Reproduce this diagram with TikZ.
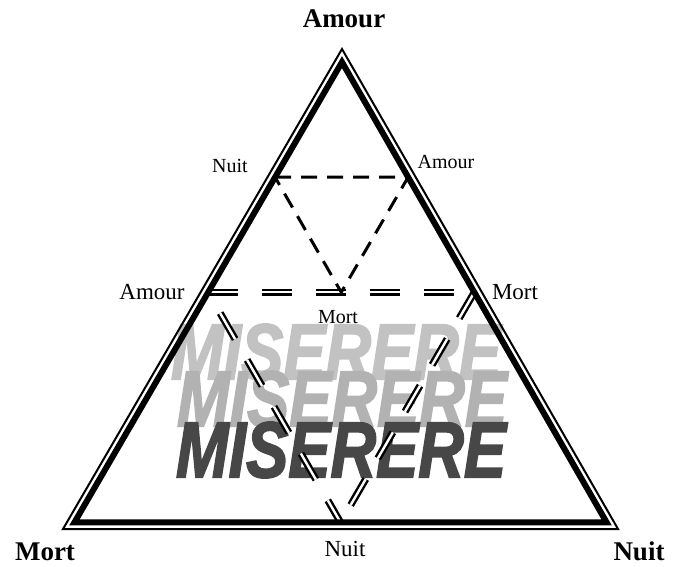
\documentclass[tikz,border=0pt]{standalone}
\usepackage{fontspec}
\setmainfont{Liberation Serif}
\newfontfamily\wordfont{Liberation Sans}[BoldItalicFeatures={FakeBold=2.5}]
\usetikzlibrary{calc}

\begin{document}
\begin{tikzpicture}[
  x=1pt, y=-1pt,
  cornerlbl/.style={font=\bfseries\fontsize{27}{27}\selectfont, inner sep=0pt},
  sidelbl/.style={font=\fontsize{23}{23}\selectfont, inner sep=0pt},
  innerlbl/.style={font=\fontsize{20}{20}\selectfont, inner sep=0pt},
  word/.style={font=\wordfont\bfseries\itshape\fontsize{79}{79}\selectfont, inner sep=0pt, xscale=0.8},
  rimthin/.style={line width=2pt, line join=miter},
  rimthick/.style={line width=6pt, line join=miter},
  dashline/.style={line width=3pt, dash pattern=on 16pt off 10pt},
  dbldash/.style={double, line width=2.4pt, double distance=2.4pt, dash pattern=on 30pt off 24pt}
]
\useasboundingbox (0,0) rectangle (674,566);

% outer and inner triangle
\coordinate (A) at (342,49);
\coordinate (B) at (63,529);
\coordinate (C) at (618,529);
\coordinate (I) at (341.25,369);
\coordinate (iA) at ($(I)!0.959!(A)$);
\coordinate (iB) at ($(I)!0.959!(B)$);
\coordinate (iC) at ($(I)!0.959!(C)$);

% midpoints
\coordinate (pAmourL) at ($(iA)!0.5!(iB)$);
\coordinate (pMortR) at ($(iA)!0.5!(iC)$);
\coordinate (pNuitB) at ($(iB)!0.5!(iC)$);
\coordinate (pNuitS) at ($(iA)!0.5!(pAmourL)$);
\coordinate (pAmourS) at ($(iA)!0.5!(pMortR)$);
\coordinate (pMortS) at ($(pAmourL)!0.5!(pMortR)$);

% the word, three times
\node[word, text=black!24] (miserereA) at (336,352) {MISERERE};
\node[word, text=black!30] (miserereB) at (342,399) {MISERERE};
\node[word, text=black!72] (miserereC) at (341,450) {MISERERE};

\draw[dbldash] (pAmourL) -- (pMortR);
\draw[dbldash, dash phase=30pt] (pAmourL) -- (pNuitB);
\draw[dbldash] (pMortR) -- (pNuitB);
\draw[dashline] (pNuitS) -- (pAmourS) -- (pMortS) -- cycle;

\draw[rimthin] (A) -- (B) -- (C) -- cycle;
\draw[rimthick] (iA) -- (iB) -- (iC) -- cycle;

% labels
\node[cornerlbl] (amourTop) at (344,19) {Amour};
\node[cornerlbl] (mortBL) at (45,552) {Mort};
\node[cornerlbl] (nuitBR) at (639,551) {Nuit};
\node[sidelbl] (nuitBot) at (345,549) {Nuit};
\node[sidelbl] (amourLeft) at (152,292) {Amour};
\node[sidelbl] (mortRight) at (515,292) {Mort};
\node[innerlbl] (nuitSmall) at (230,166) {Nuit};
\node[innerlbl] (amourSmall) at (446,162) {Amour};
\node[innerlbl] (mortSmall) at (338,317) {Mort};
\end{tikzpicture}
\end{document}
